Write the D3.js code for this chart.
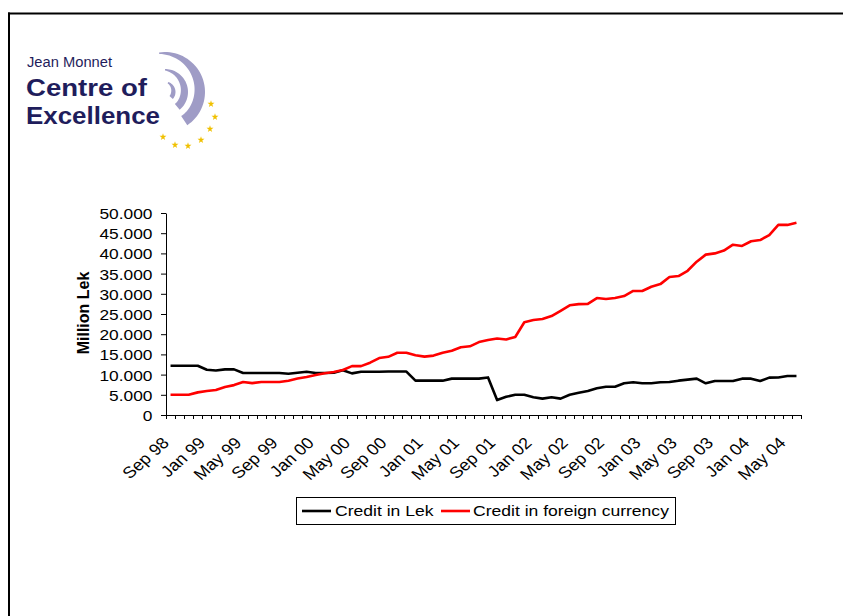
<!DOCTYPE html>
<html><head><meta charset="utf-8">
<script src="https://cdn.jsdelivr.net/npm/d3@7"></script>
<style>html,body{margin:0;padding:0;background:#fff;}svg{display:block;}</style>
</head><body>
<svg id="chart" width="843" height="616"></svg>
<script>
// ---------- data ----------
const categories = [
 "Sep 98","Oct 98","Nov 98","Dec 98",
 "Jan 99","Feb 99","Mar 99","Apr 99","May 99","Jun 99","Jul 99","Aug 99","Sep 99","Oct 99","Nov 99","Dec 99",
 "Jan 00","Feb 00","Mar 00","Apr 00","May 00","Jun 00","Jul 00","Aug 00","Sep 00","Oct 00","Nov 00","Dec 00",
 "Jan 01","Feb 01","Mar 01","Apr 01","May 01","Jun 01","Jul 01","Aug 01","Sep 01","Oct 01","Nov 01","Dec 01",
 "Jan 02","Feb 02","Mar 02","Apr 02","May 02","Jun 02","Jul 02","Aug 02","Sep 02","Oct 02","Nov 02","Dec 02",
 "Jan 03","Feb 03","Mar 03","Apr 03","May 03","Jun 03","Jul 03","Aug 03","Sep 03","Oct 03","Nov 03","Dec 03",
 "Jan 04","Feb 04","Mar 04","Apr 04","May 04","Jun 04"
];
const creditLek = [
 12200,12200,12200,12200,11200,11000,11300,11300,10400,10400,10400,10400,10400,10200,10450,10700,
 10400,10400,10450,11100,10300,10700,10700,10700,10750,10750,10750,8500,8500,8500,8500,9000,
 9000,9000,9000,9300,3700,4500,5000,5000,4400,4050,4400,4050,5000,5500,5950,6600,
 7000,7000,7850,8100,7850,7850,8100,8150,8500,8750,9000,7850,8400,8400,8400,9000,
 9000,8400,9250,9300,9650,9650
];
const creditForeign = [
 5000,5000,5000,5600,5950,6200,6950,7400,8150,7900,8150,8150,8150,8500,9050,9400,
 9900,10350,10650,11150,12100,12100,12950,14100,14400,15400,15400,14800,14450,14700,15400,15900,
 16750,17000,18050,18550,18950,18700,19300,22950,23500,23750,24500,25800,27150,27450,27500,28950,
 28700,28950,29450,30700,30700,31750,32400,34150,34400,35700,37950,39700,40000,40700,42150,41850,
 43000,43300,44550,47050,47050,47600
];
const xTickLabels = ["Sep 98","Jan 99","May 99","Sep 99","Jan 00","May 00","Sep 00","Jan 01","May 01",
 "Sep 01","Jan 02","May 02","Sep 02","Jan 03","May 03","Sep 03","Jan 04","May 04"];
const yTickValues = [0,5000,10000,15000,20000,25000,30000,35000,40000,45000,50000];
const seriesNames = ["Credit in Lek","Credit in foreign currency"];
const seriesColors = ["#000000","#ff0000"];
const yTitle = "Million Lek";
const logoLines = ["Jean Monnet","Centre of","Excellence"];

// ---------- drawing ----------
const svg = d3.select("#chart");
const FONT = "Liberation Sans, Arial, Helvetica, sans-serif";
const SX = 1.12;

// frame
svg.append("line").attr("x1",8).attr("x2",843).attr("y1",13.5).attr("y2",13.5).attr("stroke","#000").attr("stroke-width",2);
svg.append("line").attr("x1",9).attr("x2",9).attr("y1",12.5).attr("y2",616).attr("stroke","#000").attr("stroke-width",2);

// logo
const logo = svg.append("g");
const navy = "#1f1d5c", lav = "#9f9cc6";
logo.append("text").attr("x",27).attr("y",67).attr("font-family",FONT)
  .attr("font-size",14).attr("fill",navy).attr("textLength",85).attr("lengthAdjust","spacingAndGlyphs").text(logoLines[0]);
logo.append("text").attr("x",26).attr("y",96).attr("font-family",FONT)
  .attr("font-weight","bold").attr("font-size",24.5).attr("fill",navy)
  .attr("textLength",121).attr("lengthAdjust","spacingAndGlyphs").text(logoLines[1]);
logo.append("text").attr("x",26).attr("y",124).attr("font-family",FONT)
  .attr("font-weight","bold").attr("font-size",24.5).attr("fill",navy)
  .attr("textLength",134).attr("lengthAdjust","spacingAndGlyphs").text(logoLines[2]);

function crescent(cx, cy, R, a0, a1, w0, w1){
  const n = 40, outer = [], inner = [];
  for(let k=0;k<=n;k++){
    const f = k/n, t = a0 + (a1-a0)*f;
    const w = w0 + (w1-w0)*Math.sin(Math.min(1,f*1.25)*Math.PI/2);
    outer.push([cx + R*Math.sin(t), cy - R*Math.cos(t)]);
    inner.push([cx + (R-w)*Math.sin(t), cy - (R-w)*Math.cos(t)]);
  }
  return d3.line()(outer.concat(inner.reverse())) + "Z";
}
[[40,-0.15,2.55,1.5,11],[23,0.0,2.45,1.5,7.5],[10.5,0.3,2.3,1.5,4.5]].forEach(([R,a0,a1,w0,w1])=>{
  logo.append("path").attr("d",crescent(165,92,R,a0,a1,w0,w1)).attr("fill",lav);
});
const starPos = [[211,104],[215,117],[210,129],[201,140],[188,146],[175,145],[163,137]];
starPos.forEach(([sx,sy])=>{
  logo.append("path").attr("transform",`translate(${sx},${sy})`)
    .attr("d",d3.symbol(d3.symbolStar,15)()).attr("fill","#f0c000");
});

// plot
const x = d3.scaleBand().domain(categories).range([166,801]).paddingInner(0).paddingOuter(0);
const y = d3.scaleLinear().domain([0,50000]).range([415,213]);
const bw = x.bandwidth();
const cxOf = c => x(c) + bw/2;

const fmt = d3.formatLocale({decimal:",",thousands:".",grouping:[3],currency:["",""]}).format(",");

const yAxis = svg.append("g").attr("transform","translate(166,0)")
  .call(d3.axisLeft(y).tickValues(yTickValues).tickSize(5).tickSizeOuter(0).tickFormat(fmt));
yAxis.select(".domain").attr("stroke","#000").attr("stroke-width",1);
yAxis.selectAll(".tick line").attr("stroke","#000");
yAxis.selectAll(".tick text").attr("x",null).attr("dy","0.36em")
  .attr("transform",`translate(-13.5,0) scale(${SX},1)`)
  .attr("font-family",FONT).attr("font-size",15.5).attr("fill","#000");

const xAxis = svg.append("g").attr("transform","translate(0,415)")
  .call(d3.axisBottom(x).tickSize(0).tickSizeOuter(0).tickFormat(""));
xAxis.select(".domain").attr("stroke","#000").attr("stroke-width",1);
xAxis.selectAll(".tick").remove();
const boundaries = categories.map(c => x(c)).concat([x.range()[1]]);
xAxis.selectAll("line.bnd").data(boundaries).join("line").attr("class","bnd")
  .attr("x1",d=>Math.round(d)+0.5).attr("x2",d=>Math.round(d)+0.5).attr("y1",0).attr("y2",4)
  .attr("stroke","#000").attr("stroke-width",1);

svg.append("g").selectAll("text").data(xTickLabels).join("text")
  .attr("transform",d=>`translate(${cxOf(d)-5},440) scale(${SX},1) rotate(-45)`)
  .attr("text-anchor","end").attr("dy","0.35em")
  .attr("font-family",FONT).attr("font-size",16).attr("fill","#000").text(d=>d);

svg.append("text").attr("transform","translate(83,313) rotate(-90)")
  .attr("text-anchor","middle").attr("dy","0.35em")
  .attr("font-family",FONT).attr("font-weight","bold").attr("font-size",16).attr("fill","#000").text(yTitle);

const line = d3.line().x((d,i)=>cxOf(categories[i])).y(d=>y(d));
[creditLek, creditForeign].forEach((s,k)=>{
  svg.append("path").datum(s).attr("d",line).attr("fill","none")
    .attr("stroke",seriesColors[k]).attr("stroke-width",2.6).attr("stroke-linejoin","round");
});

// legend
const lg = svg.append("g");
lg.append("rect").attr("x",296.5).attr("y",497.5).attr("width",379).attr("height",27)
  .attr("fill","#fff").attr("stroke","#000").attr("stroke-width",1);
const legendItems = [{x:302,tx:335},{x:441,tx:473}];
legendItems.forEach((it,k)=>{
  lg.append("line").attr("x1",it.x).attr("x2",it.x+29).attr("y1",511).attr("y2",511)
    .attr("stroke",seriesColors[k]).attr("stroke-width",2.6);
  lg.append("text").attr("transform",`translate(${it.tx},511) scale(${SX+0.05},1)`).attr("dy","0.35em")
    .attr("font-family",FONT).attr("font-size",15).attr("fill","#000").text(seriesNames[k]);
});
</script>
</body></html>
